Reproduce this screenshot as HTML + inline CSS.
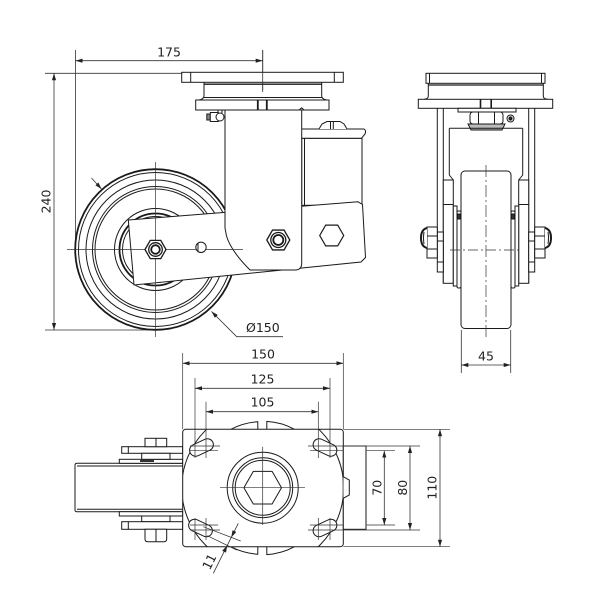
<!DOCTYPE html>
<html><head><meta charset="utf-8"><style>
html,body{margin:0;padding:0;background:#fff;width:600px;height:600px;overflow:hidden}
svg{display:block}
text{font-family:"DejaVu Sans","Liberation Sans",sans-serif;font-size:12.5px;fill:#222}
</style></head><body>
<svg width="600" height="600" viewBox="0 0 600 600" xmlns="http://www.w3.org/2000/svg">
<defs>
<marker id="a" viewBox="0 0 10 6" refX="10" refY="3" markerWidth="7" markerHeight="4.2" markerUnits="userSpaceOnUse" orient="auto-start-reverse"><path d="M0,0 L10,3 L0,6 Z" fill="#222"/></marker>
<clipPath id="pc"><rect x="182.7" y="429.3" width="160.6" height="117.4" rx="3"/></clipPath>
</defs>
<rect width="600" height="600" fill="#fff"/>

<!-- ============ SIDE VIEW ============ -->
<g stroke="#333" stroke-width="0.8" fill="none">
  <line x1="75.5" y1="50" x2="75.5" y2="249"/>
  <line x1="262.7" y1="50" x2="262.7" y2="90"/>
  <line x1="75.5" y1="60.7" x2="262.7" y2="60.7" marker-start="url(#a)" marker-end="url(#a)"/>
  <line x1="45" y1="73.3" x2="182" y2="73.3"/>
  <line x1="45" y1="330" x2="155" y2="330"/>
  <line x1="54" y1="73.3" x2="54" y2="330" marker-start="url(#a)" marker-end="url(#a)"/>
</g>
<text x="169" y="56.5" text-anchor="middle">175</text>
<text transform="translate(50.5,201.5) rotate(-90)" text-anchor="middle">240</text>

<g stroke="#1a1a1a" stroke-width="1" fill="none">
  <circle cx="155.5" cy="249.5" r="80.3" stroke-width="1.8"/>
  <circle cx="155.5" cy="249.5" r="77"/>
  <circle cx="155.5" cy="249.5" r="69.5"/>
  <circle cx="155.5" cy="249.5" r="63"/>
  <circle cx="155.5" cy="249.5" r="60.5"/>
  <circle cx="155.5" cy="249.5" r="41"/>
  <circle cx="155.5" cy="249.5" r="36" stroke-width="1.8"/>
  <circle cx="155.5" cy="249.5" r="33"/>

  <rect x="181.7" y="72.3" width="161.6" height="10" fill="#fff"/>
  <line x1="190.7" y1="72.3" x2="190.7" y2="82.3"/>
  <line x1="334.3" y1="72.3" x2="334.3" y2="82.3"/>
  <path d="M204,82.3 V96 Q204,99 199,100 M321.7,82.3 V96 Q321.7,99 326.7,100"/>
  <line x1="204" y1="84.2" x2="321.7" y2="84.2" stroke-width="1.4"/>
  <line x1="204" y1="97.5" x2="321.7" y2="97.5"/>
  <rect x="195.7" y="100" width="133.3" height="10" fill="#fff"/>
  <line x1="257.8" y1="100" x2="257.8" y2="110" stroke-width="1.8"/>
  <line x1="266.8" y1="100" x2="266.8" y2="110" stroke-width="1.8"/>
  <line x1="262.7" y1="50" x2="262.7" y2="92" stroke="#333" stroke-width="0.8"/>

  <rect x="206.8" y="114" width="3.5" height="6" fill="#888"/>
  <rect x="210.3" y="112.5" width="8" height="9" fill="#fff"/>
  <circle cx="220" cy="117" r="4" fill="#fff"/>
  <line x1="218" y1="110" x2="218" y2="113"/>
  <line x1="222" y1="110" x2="222" y2="113"/>

  <rect x="301.7" y="138.3" width="60.3" height="67" fill="#fff"/>
  <line x1="304.5" y1="138.3" x2="304.5" y2="205"/>
  <path d="M300,129 H364 Q366.5,130.5 365,134 L361.5,138.3 H301.7 Z" fill="#fff"/>
  <path d="M319,129 L322,124 L327,121.5 H340 L344,124 L347,129" fill="#fff"/>
  <line x1="333.3" y1="121.5" x2="333.3" y2="129"/>
  <line x1="330.5" y1="121.5" x2="330.5" y2="129"/>

  <polygon points="128.3,220 358,201.8 362.5,204.5 365.5,257.5 361,262 134,285" fill="#fff"/>

  <path d="M225,110 H301.7 V263 Q301.7,270 295,270 H250 C240,260 230,248 226.5,236 L225,228 Z" fill="#fff"/>
  <path d="M299,110 L301.7,107.8 L304,110" />
</g>

<g stroke="#333" stroke-width="0.7" fill="none">
  <line x1="67" y1="249.5" x2="243" y2="249.5"/>
  <line x1="155.5" y1="162" x2="155.5" y2="337"/>
</g>

<g stroke="#1a1a1a" stroke-width="1" fill="#fff">
  <polygon points="145,249.5 150.25,240.4 160.75,240.4 166,249.5 160.75,258.6 150.25,258.6" stroke-width="1.3"/>
  <circle cx="155.5" cy="249.5" r="6.8" stroke-width="1.3"/>
  <circle cx="155.5" cy="249.5" r="4.3" stroke-width="1.8"/>
  <circle cx="201" cy="247.3" r="5.2"/>
  <line x1="198" y1="243" x2="198" y2="251.6"/>
  <polygon points="266.8,240 272.55,230.05 284.05,230.05 289.8,240 284.05,249.95 272.55,249.95" stroke-width="1.3"/>
  <circle cx="278.3" cy="240" r="7.5" stroke-width="1.3"/>
  <circle cx="278.3" cy="240" r="5" stroke-width="1.8"/>
  <polygon points="319.7,235.5 325.7,225.1 337.7,225.1 343.7,235.5 337.7,245.9 325.7,245.9" stroke-width="1.2"/>
</g>

<g stroke="#333" stroke-width="0.8" fill="none">
  <line x1="91.5" y1="178" x2="101.5" y2="189" marker-end="url(#a)"/>
  <polyline points="211.5,311.5 236.7,336.7 283,336.7" marker-start="url(#a)"/>
</g>
<text x="246" y="332">Ø150</text>

<!-- ============ FRONT VIEW ============ -->
<g stroke="#1a1a1a" stroke-width="1" fill="none">
  <rect x="426" y="73.3" width="119" height="10" fill="#fff"/>
  <line x1="429.5" y1="73.3" x2="429.5" y2="83.3"/>
  <line x1="541.5" y1="73.3" x2="541.5" y2="83.3"/>
  <path d="M428.3,83.3 V96 Q428.3,99 424,99.3 M543.3,83.3 V96 Q543.3,99 547.6,99.3"/>
  <line x1="428.3" y1="85" x2="543.3" y2="85" stroke-width="1.3"/>
  <rect x="418.3" y="99.3" width="134.4" height="9" fill="#fff"/>
  <line x1="480.5" y1="99.3" x2="480.5" y2="108.3" stroke-width="1.6"/>
  <line x1="491.2" y1="99.3" x2="491.2" y2="108.3" stroke-width="1.6"/>
  <rect x="458" y="108.3" width="58" height="3.7" fill="#fff"/>
  <rect x="470" y="112" width="33" height="12" rx="3" fill="#fff"/>
  <line x1="478.5" y1="112" x2="478.5" y2="124"/>
  <line x1="494.5" y1="112" x2="494.5" y2="124"/>
  <path d="M468,124 H505 L502,130 H471 Z" fill="#bbb"/>
  <circle cx="510.5" cy="118.5" r="3.5" fill="#fff"/>
  <circle cx="510.5" cy="118.5" r="1.6" fill="#222"/>
  <line x1="449.3" y1="128.3" x2="522.7" y2="128.3"/>

  <g id="leg">
    <line x1="437.3" y1="108.3" x2="437.3" y2="232"/>
    <line x1="443.3" y1="108.3" x2="443.3" y2="283.3"/>
    <polyline points="449.3,128.3 449.3,175 453.3,180"/>
    <rect x="443.3" y="180" width="10" height="103.3" fill="#fff"/>
    <line x1="443.3" y1="204.5" x2="453.3" y2="204.5"/>
    <rect x="453.3" y="206" width="3.7" height="80" fill="#fff"/>
    <rect x="457" y="211" width="4" height="77" rx="1.5" fill="#fff"/>
    <rect x="457.5" y="214" width="3" height="5" fill="#333"/>
    <rect x="437.3" y="232" width="6" height="40" fill="#fff"/>
    <line x1="437.3" y1="241" x2="443.3" y2="241"/>
    <line x1="437.3" y1="262" x2="443.3" y2="262"/>
    <rect x="427" y="227" width="10.3" height="31" fill="#fff"/>
    <line x1="427" y1="236" x2="437.3" y2="236"/>
    <line x1="427" y1="249" x2="437.3" y2="249"/>
    <path d="M427,228 Q421,229.5 421,238 Q421,246.5 427,248" stroke-width="2" fill="#fff"/>
    <path d="M424,232 Q423,238 424,244" stroke-width="1"/>
  </g>
  <use href="#leg" transform="translate(972,0) scale(-1,1)"/>

  <rect x="461" y="171" width="50" height="157.5" rx="4" fill="#fff"/>
</g>
<g stroke="#333" stroke-width="0.7" fill="none">
  <line x1="486" y1="165" x2="486" y2="340" stroke-dasharray="12 3 2 3"/>
  <line x1="450" y1="250" x2="522" y2="250" stroke-dasharray="10 3 2 3"/>
  <line x1="461.3" y1="330" x2="461.3" y2="373" stroke-width="0.8"/>
  <line x1="510.7" y1="330" x2="510.7" y2="373" stroke-width="0.8"/>
  <line x1="461.3" y1="365" x2="510.7" y2="365" stroke-width="0.8" marker-start="url(#a)" marker-end="url(#a)"/>
</g>
<text x="486" y="360.5" text-anchor="middle">45</text>

<!-- ============ BOTTOM VIEW ============ -->
<g stroke="#1a1a1a" stroke-width="1" fill="#fff">
  <path d="M182.7,463.3 H77 Q75,463.3 75,465.3 V509.7 Q75,511.7 77,511.7 H182.7"/>
  <line x1="77" y1="466" x2="182.7" y2="466"/>
  <line x1="77" y1="509.3" x2="182.7" y2="509.3"/>
  <rect x="119.3" y="459.3" width="63.4" height="4"/>
  <rect x="119.3" y="511.7" width="63.4" height="4.3"/>
  <rect x="121.7" y="446.7" width="61" height="6.6"/>
  <line x1="128.3" y1="446.7" x2="128.3" y2="453.3"/>
  <rect x="141.7" y="453.3" width="28.3" height="6"/>
  <rect x="145" y="438.3" width="21.7" height="8.4"/>
  <line x1="156" y1="438.3" x2="156" y2="446.7"/>
  <rect x="141.7" y="516" width="28.3" height="5.7"/>
  <rect x="121.7" y="521.7" width="61" height="7.6"/>
  <line x1="128.3" y1="521.7" x2="128.3" y2="529.3"/>
  <path d="M145,529.3 H166.7 V539 Q166.7,541.7 164,541.7 H147.7 Q145,541.7 145,539 Z"/>
  <line x1="156" y1="529.3" x2="156" y2="541.7"/>
  <rect x="140" y="460" width="14" height="2" fill="#333" stroke="none"/>
</g>

<g stroke="#1a1a1a" stroke-width="1" fill="none">
  <path d="M230.9,429.3 A66.5,66.5 0 0,1 257.8,421.8 V429.3 M266.8,429.3 V421.4 A66.5,66.5 0 0,1 294.5,429.3"/>
  <path d="M230.9,546.7 A66.5,66.5 0 0,0 257.8,554.2 V546.7 M266.8,546.7 V554.6 A66.5,66.5 0 0,0 294.5,546.7"/>
  <rect x="182.7" y="429.3" width="160.6" height="117.4" rx="3" fill="#fff"/>
  <rect x="343.3" y="446" width="22.7" height="83.3" fill="#fff"/>
  <path d="M343.3,476.7 L349.3,480 V495 L343.3,498.3" fill="#fff"/>
  <circle cx="262.7" cy="487.7" r="81" clip-path="url(#pc)"/>
  <circle cx="262.7" cy="487.7" r="35.5"/>
  <circle cx="262.7" cy="487.7" r="30"/>
  <circle cx="262.7" cy="487.7" r="27.5"/>
  <polygon points="243.9,487.7 253.3,471.4 272.1,471.4 281.5,487.7 272.1,504 253.3,504"/>
  <rect x="-12.5" y="-6" width="25" height="12" rx="6" transform="translate(201.5,447.5) rotate(-25)" fill="#fff"/>
  <rect x="-12.5" y="-6" width="25" height="12" rx="6" transform="translate(325,447.5) rotate(25)" fill="#fff"/>
  <rect x="-12.5" y="-6" width="25" height="12" rx="6" transform="translate(200.5,528) rotate(25)" fill="#fff"/>
  <rect x="-12.5" y="-6" width="25" height="12" rx="6" transform="translate(325,528) rotate(-25)" fill="#fff"/>
</g>

<g stroke="#333" stroke-width="0.7" fill="none">
  <line x1="220" y1="487.7" x2="305" y2="487.7"/>
  <line x1="262.7" y1="446.7" x2="262.7" y2="525"/>
  <line x1="182.7" y1="353" x2="182.7" y2="429.3"/>
  <line x1="343.3" y1="353" x2="343.3" y2="429.3"/>
  <line x1="195" y1="378" x2="195" y2="458"/>
  <line x1="330" y1="378" x2="330" y2="458"/>
  <line x1="206" y1="401.7" x2="206" y2="458"/>
  <line x1="318.3" y1="401.7" x2="318.3" y2="458"/>
  <line x1="195" y1="518" x2="195" y2="540"/>
  <line x1="206" y1="518" x2="206" y2="540"/>
  <line x1="318.3" y1="518" x2="318.3" y2="540"/>
  <line x1="330" y1="518" x2="330" y2="540"/>
  <line x1="182.7" y1="363.3" x2="343.3" y2="363.3" stroke-width="0.8" marker-start="url(#a)" marker-end="url(#a)"/>
  <line x1="195" y1="388.3" x2="330" y2="388.3" stroke-width="0.8" marker-start="url(#a)" marker-end="url(#a)"/>
  <line x1="206" y1="411.7" x2="318.3" y2="411.7" stroke-width="0.8" marker-start="url(#a)" marker-end="url(#a)"/>
  <line x1="190" y1="446" x2="220" y2="446"/>
  <line x1="190" y1="450.7" x2="218" y2="450.7"/>
  <line x1="190" y1="530" x2="220" y2="530"/>
  <line x1="190" y1="525" x2="218" y2="525"/>
  <line x1="308" y1="446" x2="420" y2="446"/>
  <line x1="310" y1="450.7" x2="343.3" y2="450.7"/>
  <line x1="366.7" y1="450.7" x2="395" y2="450.7"/>
  <line x1="308" y1="530" x2="420" y2="530"/>
  <line x1="310" y1="525" x2="343.3" y2="525"/>
  <line x1="366.7" y1="525" x2="395" y2="525"/>
  <line x1="343.3" y1="429.3" x2="450" y2="429.3"/>
  <line x1="343.3" y1="546.7" x2="450" y2="546.7"/>
  <line x1="384.3" y1="450.7" x2="384.3" y2="525" stroke-width="0.8" marker-start="url(#a)" marker-end="url(#a)"/>
  <line x1="410" y1="446" x2="410" y2="530" stroke-width="0.8" marker-start="url(#a)" marker-end="url(#a)"/>
  <line x1="440" y1="429.3" x2="440" y2="546.7" stroke-width="0.8" marker-start="url(#a)" marker-end="url(#a)"/>
  <line x1="203.3" y1="526.7" x2="240.7" y2="541"/>
  <line x1="207.3" y1="535.7" x2="236.7" y2="550"/>
  <line x1="238.3" y1="523.3" x2="213.3" y2="573.3" stroke-width="0.8"/>
</g>
<path d="M231.3,537.4 L236.3,532 L232.5,530.2 Z M227.25,545.4 L226,552.6 L222.2,550.8 Z" fill="#222"/>

<text x="263" y="358.3" text-anchor="middle">150</text>
<text x="262.5" y="383.3" text-anchor="middle">125</text>
<text x="262.5" y="406.7" text-anchor="middle">105</text>
<text transform="translate(381.5,487.7) rotate(-90)" text-anchor="middle">70</text>
<text transform="translate(407,487.7) rotate(-90)" text-anchor="middle">80</text>
<text transform="translate(436.5,487.7) rotate(-90)" text-anchor="middle">110</text>
<text transform="translate(213.3,563.7) rotate(-63.4)" text-anchor="middle">11</text>
</svg>
</body></html>
